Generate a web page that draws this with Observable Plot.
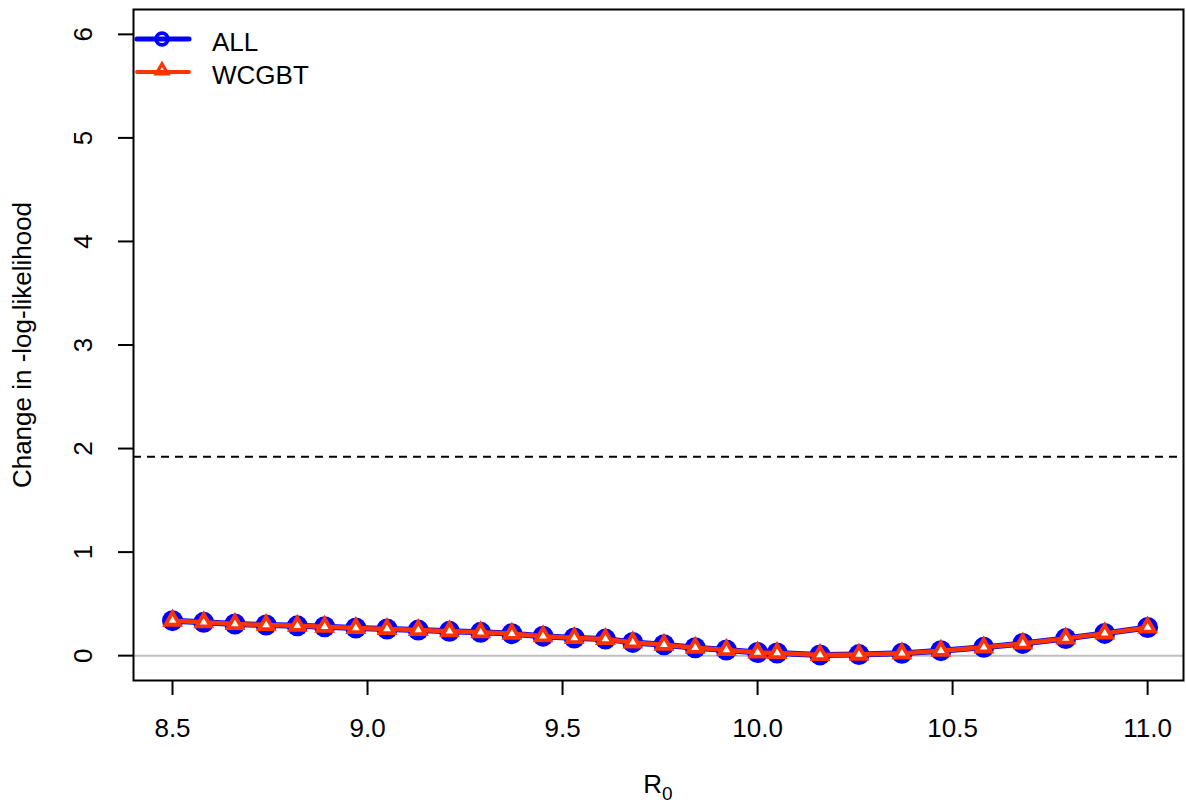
<!DOCTYPE html>
<html>
<head>
<meta charset="utf-8">
<script src="https://cdn.jsdelivr.net/npm/d3@7"></script>
<script src="https://cdn.jsdelivr.net/npm/@observablehq/plot@0.6"></script>
<style>
  html, body { margin: 0; padding: 0; background: white; }
  #chart { width: 1186px; height: 809px; }
</style>
</head>
<body>
<div id="chart"></div>
<script>
// ---- data ----
const r0Values = [8.5, 8.58, 8.66, 8.74, 8.82, 8.89, 8.97, 9.05, 9.13, 9.21, 9.29, 9.37, 9.45, 9.53, 9.61,
                  9.68, 9.76, 9.84, 9.92, 10.0, 10.05, 10.16, 10.26, 10.37, 10.47, 10.58, 10.68, 10.79, 10.89, 11.0];
const allValues = [0.338, 0.322, 0.306, 0.296, 0.288, 0.279, 0.267, 0.257, 0.247, 0.235, 0.225, 0.212, 0.188, 0.17, 0.16,
                   0.128, 0.105, 0.076, 0.055, 0.03, 0.026, 0.007, 0.01, 0.022, 0.048, 0.08, 0.118, 0.165, 0.215, 0.272];
const wcgbtValues = [0.338, 0.322, 0.306, 0.296, 0.288, 0.279, 0.267, 0.257, 0.247, 0.235, 0.225, 0.212, 0.188, 0.17, 0.16,
                     0.128, 0.105, 0.076, 0.055, 0.03, 0.026, 0.007, 0.01, 0.022, 0.048, 0.08, 0.118, 0.165, 0.215, 0.272];
const seriesNames = ["ALL", "WCGBT"];
const seriesColors = ["#0000FF", "#FF3300"];
const thresholdValue = 1.92;
const xTickValues = [8.5, 9.0, 9.5, 10.0, 10.5, 11.0];
const yTickValues = [0, 1, 2, 3, 4, 5, 6];
const xTitle = ["R", "0"];
const yTitle = "Change in -log-likelihood";

// ---- build tables ----
const allData = r0Values.map((x, i) => ({r0: x, value: allValues[i]}));
const wcData = r0Values.map((x, i) => ({r0: x, value: wcgbtValues[i]}));

const W = 1186, H = 809;
const mL = 133, mR = 3, mT = 9, mB = 129;
const font = "Liberation Sans, Arial, Helvetica, sans-serif";
const fs = 26;

const chart = Plot.plot({
  width: W,
  height: H,
  marginLeft: mL,
  marginRight: mR,
  marginTop: mT,
  marginBottom: mB,
  style: {fontFamily: font, fontSize: fs + "px", background: "white", color: "black"},
  x: {domain: [8.4, 11.092]},
  y: {domain: [-0.24, 6.24]},
  marks: [
    Plot.ruleY([0], {stroke: "#BEBEBE", strokeWidth: 2}),
    Plot.ruleY([thresholdValue], {stroke: "black", strokeWidth: 2, strokeDasharray: "8,6"}),
    Plot.line(allData, {x: "r0", y: "value", stroke: seriesColors[0], strokeWidth: 6}),
    Plot.dot(allData, {x: "r0", y: "value", r: 10.5, fill: seriesColors[0], stroke: "none"}),
    Plot.line(wcData, {x: "r0", y: "value", stroke: seriesColors[1], strokeWidth: 4.5}),
    Plot.dot(wcData, {x: "r0", y: "value", symbol: "triangle", r: 5.3, fill: "white", stroke: seriesColors[1], strokeWidth: 3.8}),
    Plot.frame({stroke: "black", strokeWidth: 2}),
    Plot.axisX({ticks: xTickValues, tickSize: 15, strokeWidth: 2, tickFormat: () => "", label: null}),
    Plot.text(xTickValues, {x: d => d, frameAnchor: "bottom", dy: 48, text: d => d3.format(".1f")(d),
                            fontSize: fs, lineAnchor: "middle", fill: "black"}),
    Plot.axisY({ticks: yTickValues, tickSize: 15, strokeWidth: 2, tickFormat: () => "", label: null}),
    Plot.text(yTickValues, {y: d => d, frameAnchor: "left", dx: -50, rotate: -90, text: d => String(d),
                            fontSize: fs, textAnchor: "middle", lineAnchor: "middle", fill: "black"}),
    Plot.text([yTitle], {frameAnchor: "left", dx: -111, rotate: -90, text: d => d,
                         fontSize: fs, textAnchor: "middle", lineAnchor: "middle", fill: "black"})
  ]
});

const svg = d3.select(chart);

// x-axis title with subscript
const xt = svg.append("text")
  .attr("x", mL + (W - mL - mR) / 2)
  .attr("y", 793)
  .attr("text-anchor", "middle")
  .attr("font-family", font)
  .attr("font-size", fs)
  .attr("fill", "black");
xt.append("tspan").text(xTitle[0]);
xt.append("tspan").attr("font-size", 19).attr("dy", 7).text(xTitle[1]);

// legend (top-left inside the plot box)
const lg = svg.append("g").attr("font-family", font).attr("font-size", fs).attr("text-anchor", "start");
seriesNames.forEach((name, i) => {
  const cy = 39 + i * 33;
  const g = lg.append("g");
  g.append("line").attr("x1", 137).attr("x2", 189).attr("y1", cy).attr("y2", cy)
    .attr("stroke", seriesColors[i]).attr("stroke-width", i === 0 ? 5 : 3.8).attr("stroke-linecap", "round");
  if (i === 0) {
    g.append("circle").attr("cx", 162).attr("cy", cy).attr("r", 5.8)
      .attr("fill", "none").attr("stroke", seriesColors[i]).attr("stroke-width", 3.8);
  } else {
    g.append("path").attr("transform", `translate(162,${cy - 1.5})`)
      .attr("d", d3.symbol(d3.symbolTriangle, 60)())
      .attr("fill", "none").attr("stroke", seriesColors[i]).attr("stroke-width", 3.2);
  }
  g.append("text").attr("x", 212).attr("y", cy + 12).attr("fill", "black").text(name);
});

document.getElementById("chart").appendChild(chart);
</script>
</body>
</html>
